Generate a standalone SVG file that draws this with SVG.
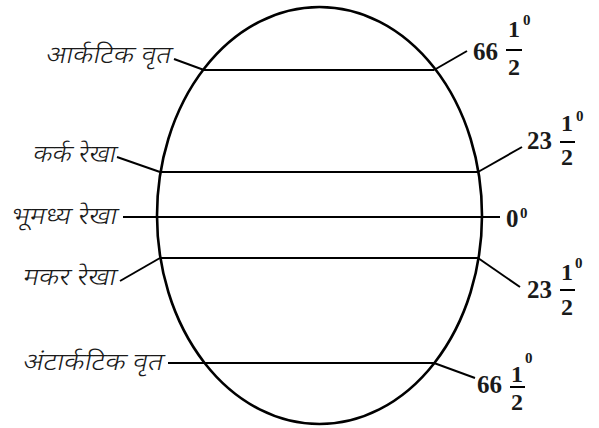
<svg xmlns="http://www.w3.org/2000/svg" width="599" height="428" viewBox="0 0 599 428">
<style>
.ln{stroke:#000;stroke-width:2;fill:none}
.dv{font-family:"Noto Sans","Noto Sans Devanagari","Lohit Devanagari",sans-serif;font-size:24px;font-weight:300;fill:#1a1a1a}
.num{font-family:"Liberation Serif","DejaVu Serif",serif;font-weight:bold;font-size:25px;fill:#1a1a1a}
.fr{font-family:"Liberation Serif","DejaVu Serif",serif;font-weight:bold;font-size:24px;fill:#1a1a1a;text-anchor:middle}
.sup{font-family:"Liberation Serif","DejaVu Serif",serif;font-weight:bold;font-size:15px;fill:#1a1a1a}
</style>
<rect width="599" height="428" fill="#fff"/>
<g id="globe"><ellipse cx="319.5" cy="215.5" rx="162.5" ry="208.5" fill="none" stroke="#000" stroke-width="2.6"/></g>
<g id="connectors">
<line class="ln" x1="204" y1="70" x2="434" y2="70"/>
<line class="ln" x1="160" y1="172" x2="478" y2="172"/>
<line class="ln" x1="123" y1="217" x2="500" y2="217"/>
<line class="ln" x1="160" y1="258" x2="478" y2="258"/>
<line class="ln" x1="168" y1="363" x2="434" y2="363"/>
<line class="ln" x1="204" y1="70" x2="174" y2="59"/>
<line class="ln" x1="434" y1="70" x2="467" y2="51"/>
<line class="ln" x1="160" y1="172" x2="117" y2="157"/>
<line class="ln" x1="478" y1="172" x2="522" y2="147"/>
<line class="ln" x1="160" y1="258" x2="120" y2="281"/>
<line class="ln" x1="478" y1="258" x2="520" y2="287"/>
<line class="ln" x1="434" y1="363" x2="475" y2="378"/>
</g>
<g id="arctic-left" transform="translate(45,63) skewX(-12)"><text class="dv" x="0" y="0" textLength="125" lengthAdjust="spacingAndGlyphs">आर्कटिक वृत</text></g>
<g id="cancer-left" transform="translate(32,162) skewX(-12)"><text class="dv" x="0" y="0" textLength="83" lengthAdjust="spacingAndGlyphs">कर्क रेखा</text></g>
<g id="equator-left" transform="translate(10,224) skewX(-12)"><text class="dv" x="0" y="0" textLength="106" lengthAdjust="spacingAndGlyphs">भूमध्य रेखा</text></g>
<g id="capricorn-left" transform="translate(22,285) skewX(-12)"><text class="dv" x="0" y="0" textLength="93" lengthAdjust="spacingAndGlyphs">मकर रेखा</text></g>
<g id="antarctic-left" transform="translate(22,370) skewX(-12)"><text class="dv" x="0" y="0" textLength="140" lengthAdjust="spacingAndGlyphs">अंटार्कटिक वृत</text></g>
<g id="arctic-right">
<text class="num" x="473" y="60">66</text>
<text class="fr" x="514" y="37">1</text>
<line class="ln" x1="506" y1="50" x2="522" y2="50"/>
<text class="fr" x="514" y="75">2</text>
<text class="sup" x="523" y="25">0</text>
</g>
<g id="cancer-right">
<text class="num" x="527" y="149">23</text>
<text class="fr" x="567" y="131">1</text>
<line class="ln" x1="560" y1="142" x2="575" y2="142"/>
<text class="fr" x="567" y="165">2</text>
<text class="sup" x="576" y="121">0</text>
</g>
<g id="equator-right">
<text class="num" x="506" y="227">0</text>
<text class="sup" x="520" y="218">0</text>
</g>
<g id="capricorn-right">
<text class="num" x="527" y="298">23</text>
<text class="fr" x="567" y="280">1</text>
<line class="ln" x1="560" y1="290" x2="575" y2="290"/>
<text class="fr" x="567" y="315">2</text>
<text class="sup" x="575" y="268">0</text>
</g>
<g id="antarctic-right">
<text class="num" x="477" y="393">66</text>
<text class="fr" x="517" y="382">1</text>
<line class="ln" x1="510" y1="387" x2="525" y2="387"/>
<text class="fr" x="517" y="410">2</text>
<text class="sup" x="525" y="363">0</text>
</g>
</svg>
